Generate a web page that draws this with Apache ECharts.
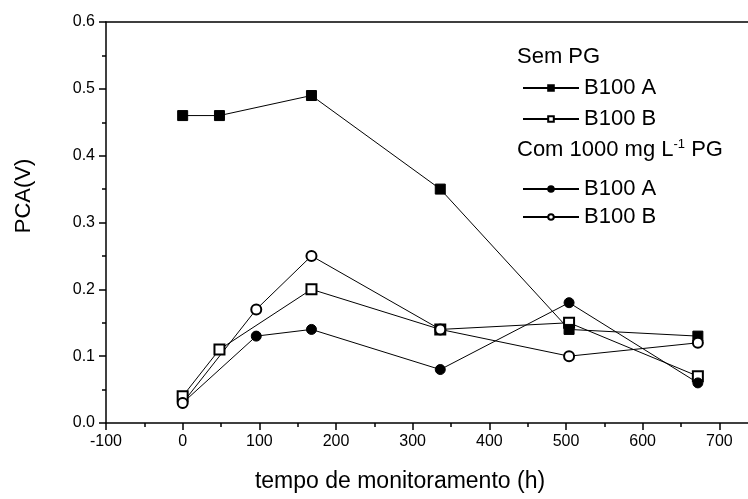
<!DOCTYPE html>
<html>
<head>
<meta charset="utf-8">
<script src="https://cdn.jsdelivr.net/npm/echarts@6/dist/echarts.min.js"></script>
<style>html,body{margin:0;padding:0;background:#fff}#c{width:748px;height:499px}</style>
</head>
<body>
<div id="c"></div>
<script>
// Data (time in hours, PCA in V)
var semA_x = [0, 48, 168, 336, 504, 672];
var semA_y = [0.46, 0.46, 0.49, 0.35, 0.14, 0.13];
var semB_x = [0, 48, 168, 336, 504, 672];
var semB_y = [0.04, 0.11, 0.20, 0.14, 0.15, 0.07];
var comA_x = [0, 96, 168, 336, 504, 672];
var comA_y = [0.03, 0.13, 0.14, 0.08, 0.18, 0.06];
var comB_x = [0, 96, 168, 336, 504, 672];
var comB_y = [0.03, 0.17, 0.25, 0.14, 0.10, 0.12];
var xTicks = [-100, 0, 100, 200, 300, 400, 500, 600, 700];
var yTicks = [0.0, 0.1, 0.2, 0.3, 0.4, 0.5, 0.6];
var seriesLabels = { semA: 'B100 A', semB: 'B100 B', comA: 'B100 A', comB: 'B100 B' };
var xTitle = 'tempo de monitoramento (h)';
var yTitle = 'PCA(V)';
var header1 = 'Sem PG';

function pairs(xs, ys) { return xs.map(function (x, i) { return [x, ys[i]]; }); }

var FONT = 'Liberation Sans, Arial, sans-serif';
var chart = echarts.init(document.getElementById('c'), null, { renderer: 'canvas' });

function lineSeries(name, xs, ys, symbol) {
  return {
    name: name, type: 'line', data: pairs(xs, ys),
    symbol: symbol, symbolSize: 10,
    showAllSymbol: true,
    itemStyle: { color: '#000', borderColor: '#000', borderWidth: 1 },
    lineStyle: { color: '#000', width: 1 },
    emphasis: { disabled: true },
    animation: false
  };
}

// the plotted frame runs past the right edge of the picture (cropped figure)
var X_MIN = -100, X_MAX = 800;
var axisLineStyle = { color: '#000', width: 1.5 };

var option = {
  animation: false,
  backgroundColor: '#fff',
  grid: { left: 106, top: 22, bottom: 76, width: 690, show: false, containLabel: false, outerBoundsMode: 'none' },
  xAxis: [{
    type: 'value', min: X_MIN, max: X_MAX, interval: 100, position: 'bottom',
    axisLine: { show: true, onZero: false, lineStyle: axisLineStyle },
    axisTick: { show: true, inside: false, length: 7, lineStyle: axisLineStyle },
    minorTick: { show: true, splitNumber: 2, length: 4, lineStyle: axisLineStyle },
    splitLine: { show: false }, minorSplitLine: { show: false },
    axisLabel: {
      color: '#000', fontSize: 16, fontFamily: FONT, margin: 11,
      formatter: function (v) { return xTicks.indexOf(v) >= 0 ? String(v) : ''; }
    }
  }, {
    type: 'value', min: X_MIN, max: X_MAX, interval: 100, position: 'top',
    axisLine: { show: true, onZero: false, lineStyle: axisLineStyle },
    axisTick: { show: false }, minorTick: { show: false },
    splitLine: { show: false }, axisLabel: { show: false }
  }],
  yAxis: {
    type: 'value', min: 0, max: 0.6, interval: 0.1,
    axisLine: { show: true, onZero: false, lineStyle: axisLineStyle },
    axisTick: { show: true, inside: false, length: 7, lineStyle: axisLineStyle },
    minorTick: { show: true, splitNumber: 2, length: 4, lineStyle: axisLineStyle },
    splitLine: { show: false }, minorSplitLine: { show: false },
    axisLabel: {
      color: '#000', fontSize: 16, fontFamily: FONT, margin: 11,
      formatter: function (v) { return v.toFixed(1); }
    }
  },
  legend: [
    {
      data: ['semA', 'semB'], orient: 'vertical', left: 517, top: 72,
      itemWidth: 56, itemHeight: 7, itemGap: 9,
      formatter: function (n) { return seriesLabels[n]; },
      textStyle: { color: '#000', fontSize: 22, fontFamily: FONT },
      selectedMode: false
    },
    {
      data: ['comA', 'comB'], orient: 'vertical', left: 517, top: 173,
      itemWidth: 56, itemHeight: 7, itemGap: 6,
      formatter: function (n) { return seriesLabels[n]; },
      textStyle: { color: '#000', fontSize: 22, fontFamily: FONT },
      selectedMode: false
    }
  ],
  graphic: [
    { type: 'text', left: 517, top: 46, style: { text: header1, fontSize: 22, fontFamily: FONT, fill: '#000' } },
    { type: 'text', left: 517, top: 138, style: {
        text: 'Com 1000 mg L{sup|-1} PG', fontSize: 22, fontFamily: FONT, fill: '#000',
        rich: { sup: { fontSize: 13, fontFamily: FONT, fill: '#000', padding: [0, 0, 10, 0] } }
      } },
    { type: 'text', x: 400, y: 482, style: { text: xTitle, fontSize: 23, fontFamily: FONT, fill: '#000', align: 'center', verticalAlign: 'middle' } },
    { type: 'text', x: 24, y: 196, rotation: Math.PI / 2, style: { text: yTitle, fontSize: 22, fontFamily: FONT, fill: '#000', align: 'center', verticalAlign: 'middle' } }
  ],
  series: [
    lineSeries('semB', semB_x, semB_y, 'emptyRect'),
    lineSeries('semA', semA_x, semA_y, 'rect'),
    lineSeries('comA', comA_x, comA_y, 'circle'),
    lineSeries('comB', comB_x, comB_y, 'emptyCircle')
  ]
};
chart.setOption(option);
</script>
</body>
</html>
